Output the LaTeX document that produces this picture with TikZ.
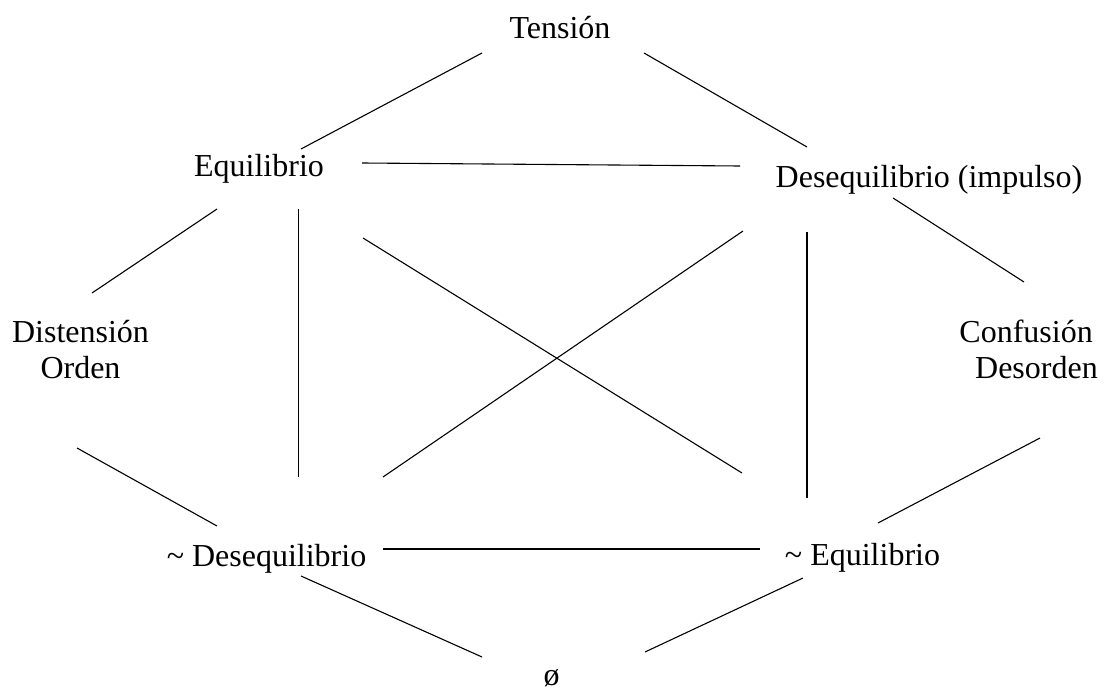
\documentclass[tikz,border=0pt]{standalone}
\usepackage{fontspec}
\setmainfont{Liberation Serif}
\begin{document}
\begin{tikzpicture}[x=1pt,y=-1pt,
  lbl/.style={inner sep=0pt,font=\fontsize{32}{36}\selectfont,anchor=base},
  link/.style={draw=black,line width=1.1pt}]
\useasboundingbox (0,0) rectangle (1104,690);
% nodes
\node[lbl] (ten) at (560,39) {Tensión};
\node[lbl] (eq) at (259,177) {Equilibrio};
\node[lbl] (deq) at (929,188) {Desequilibrio (impulso)};
\node[lbl,align=center] (dis) at (80.5,378) {Distensión\\Orden};
\node[lbl,align=right,anchor=base east] (con) at (1098,378) {Confusión\hspace*{5pt}\\Desorden};
\node[lbl] (ndeq) at (266.5,566) {\textasciitilde{} Desequilibrio};
\node[lbl] (neq) at (862.5,565) {\textasciitilde{} Equilibrio};
\node[lbl] (empty) at (551.5,685) {ø};
% connector ends
\coordinate (ten-eq) at (482,53);    \coordinate (eq-ten) at (301,149);
\coordinate (ten-deq) at (644,53);   \coordinate (deq-ten) at (807,147);
\coordinate (eq-deq) at (362,163);   \coordinate (deq-eq) at (740,166);
\coordinate (eq-dis) at (217,209);   \coordinate (dis-eq) at (92,293);
\coordinate (eq-ndeq) at (298.5,209); \coordinate (ndeq-eq) at (298.5,477);
\coordinate (eq-neq) at (363,238);   \coordinate (neq-eq) at (742,473);
\coordinate (deq-ndeq) at (743,231); \coordinate (ndeq-deq) at (383,477);
\coordinate (deq-neq) at (807,232);  \coordinate (neq-deq) at (807,498);
\coordinate (deq-con) at (893,198);  \coordinate (con-deq) at (1024,282);
\coordinate (dis-ndeq) at (77,448);  \coordinate (ndeq-dis) at (217,526);
\coordinate (con-neq) at (1040,438); \coordinate (neq-con) at (878,523);
\coordinate (ndeq-neq) at (383,549); \coordinate (neq-ndeq) at (760,549);
\coordinate (ndeq-empty) at (301,576); \coordinate (empty-ndeq) at (482,657);
\coordinate (neq-empty) at (803,578);  \coordinate (empty-neq) at (645,652);
% connectors
\draw[link] (ten-eq) -- (eq-ten);
\draw[link] (ten-deq) -- (deq-ten);
\draw[link] (eq-deq) -- (deq-eq);
\draw[link] (eq-dis) -- (dis-eq);
\draw[link] (eq-ndeq) -- (ndeq-eq);
\draw[link] (eq-neq) -- (neq-eq);
\draw[link] (deq-ndeq) -- (ndeq-deq);
\draw[link] (deq-neq) -- (neq-deq);
\draw[link] (deq-con) -- (con-deq);
\draw[link] (dis-ndeq) -- (ndeq-dis);
\draw[link] (con-neq) -- (neq-con);
\draw[link] (ndeq-neq) -- (neq-ndeq);
\draw[link] (ndeq-empty) -- (empty-ndeq);
\draw[link] (neq-empty) -- (empty-neq);
\end{tikzpicture}
\end{document}
